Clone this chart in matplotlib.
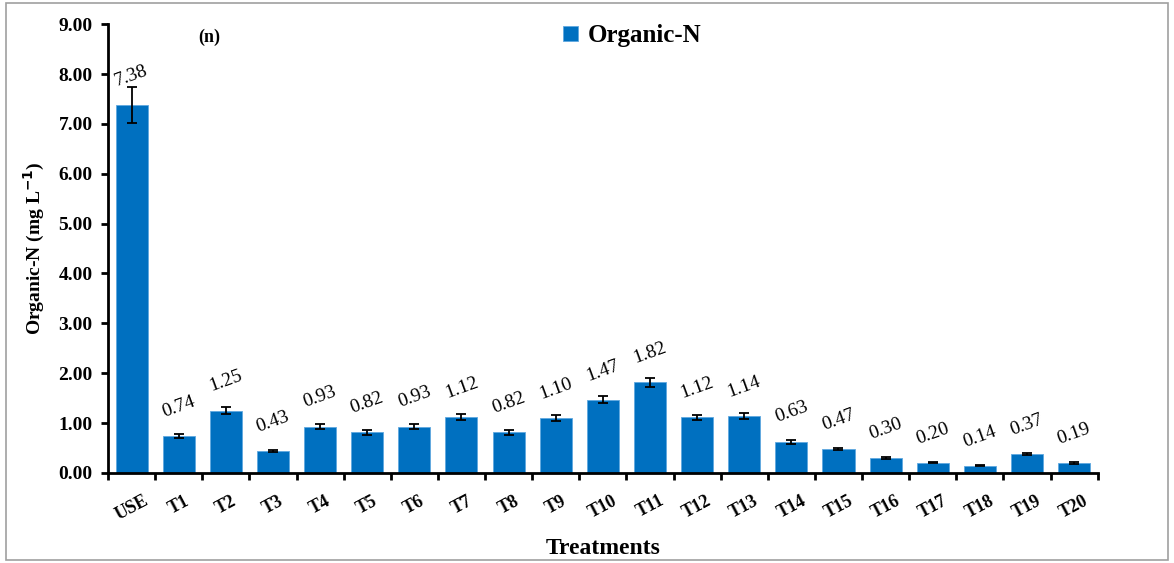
import numpy as np
import matplotlib.pyplot as plt
from matplotlib.patches import Rectangle

# Data
treatments = ['USE', 'T1', 'T2', 'T3', 'T4', 'T5', 'T6', 'T7', 'T8', 'T9', 'T10',
              'T11', 'T12', 'T13', 'T14', 'T15', 'T16', 'T17', 'T18', 'T19', 'T20']
organic_n = [7.38, 0.74, 1.25, 0.43, 0.93, 0.82, 0.93, 1.12, 0.82, 1.10, 1.47,
             1.82, 1.12, 1.14, 0.63, 0.47, 0.30, 0.20, 0.14, 0.37, 0.19]
errors = [0.37, 0.04, 0.07, 0.02, 0.05, 0.05, 0.05, 0.06, 0.05, 0.06, 0.07,
          0.09, 0.05, 0.06, 0.04, 0.02, 0.02, 0.01, 0.01, 0.02, 0.02]

plt.rcParams['font.family'] = ['Liberation Serif', 'DejaVu Serif']

fig = plt.figure(figsize=(11.74, 5.63), dpi=100)
ax = fig.add_axes([0.092, 0.160, 0.843, 0.797])

x = np.arange(len(treatments))
bars = ax.bar(x, organic_n, width=0.68, color='#0070C0', edgecolor='#5fa8e0',
              linewidth=0.6, label='Organic-N', zorder=2)
ax.errorbar(x, organic_n, yerr=errors, fmt='none', ecolor='black',
            elinewidth=1.3, capsize=3.5, capthick=1.3, zorder=3)

# value labels
for xi, v in zip(x, organic_n):
    ax.annotate('%.2f' % v, (xi, v), xytext=(0, 21), textcoords='offset points',
                ha='center', va='center', rotation=20, fontsize=14)

ax.set_xlim(-0.5, len(treatments) - 0.5)
ax.set_ylim(0, 9)
ax.set_yticks(np.arange(0, 9.01, 1.0))
ax.set_yticklabels(['%.2f' % t for t in np.arange(0, 9.01, 1.0)],
                   fontsize=14, fontweight='bold')
ax.set_xticks(x)
ax.set_xticklabels(treatments, rotation=28, fontsize=13, fontweight='bold',
                   ha='center', va='top')
ax.tick_params(axis='x', length=0, pad=14)
ax.set_xticks(np.arange(-0.5, len(treatments), 1.0), minor=True)
ax.tick_params(axis='x', which='minor', length=5, width=2, direction='out')
ax.tick_params(axis='y', length=5, width=2, direction='out', pad=6)

for s in ['top', 'right']:
    ax.spines[s].set_visible(False)
for s in ['left', 'bottom']:
    ax.spines[s].set_linewidth(2)

ax.set_ylabel('Organic-N (mg L$^{\\mathbf{-1}}$)', fontsize=14, fontweight='bold',
              labelpad=8)
ax.set_xlabel('Treatments', fontsize=17, fontweight='bold', labelpad=10)

ax.text(0.102, 0.99, '(n)', transform=ax.transAxes, fontsize=13,
        fontweight='bold', ha='center', va='top')
ax.legend(loc='upper center', bbox_to_anchor=(0.53, 1.05), frameon=False,
          prop={'size': 18, 'weight': 'bold'}, handlelength=0.6, handleheight=0.6,
          handletextpad=0.4)

# thin grey frame around the figure
fig.patches.append(Rectangle((0.005, 0.005), 0.99, 0.99, transform=fig.transFigure,
                             fill=False, edgecolor='#a0a0a0', linewidth=1.2))

fig.savefig('out.png', dpi=100)
